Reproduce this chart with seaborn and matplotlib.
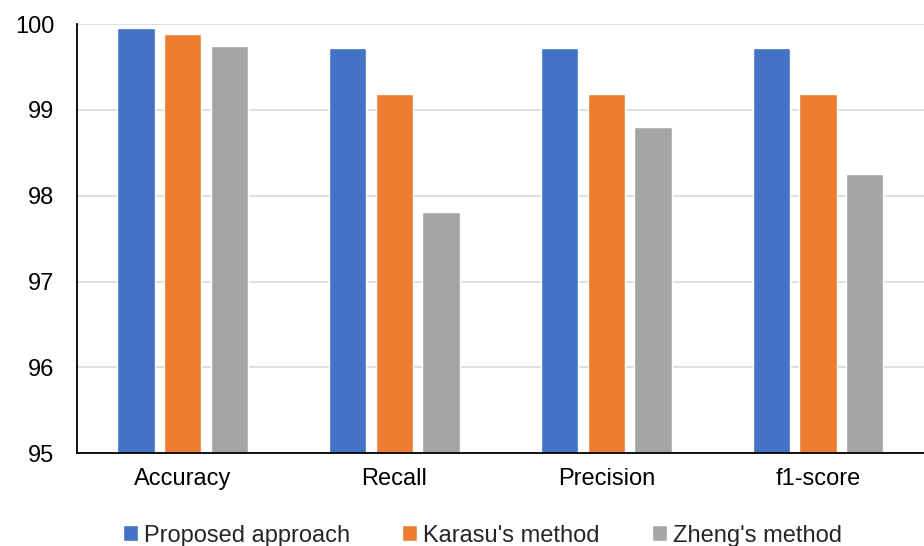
import pandas
import seaborn
import matplotlib.pyplot as plt

# values
metrics = ['Accuracy', 'Recall', 'Precision', 'f1-score']
methods = ["Proposed approach", "Karasu's method", "Zheng's method"]
proposed = [99.95, 99.72, 99.72, 99.72]
karasu = [99.88, 99.18, 99.18, 99.18]
zheng = [99.74, 97.81, 98.80, 98.25]
colors = ['#4472C4', '#ED7D31', '#A5A5A5']

rows = []
for name, vals in zip(methods, [proposed, karasu, zheng]):
    for m, v in zip(metrics, vals):
        rows.append({'metric': m, 'method': name, 'value': v})
df = pandas.DataFrame(rows)

seaborn.set_style('white')
plt.rcParams['font.family'] = ['Liberation Sans', 'DejaVu Sans']

fig = plt.figure(figsize=(9.24, 5.46), dpi=100)
ax = fig.add_axes([0.083, 0.17, 0.917, 0.786])
seaborn.barplot(data=df, x='metric', y='value', hue='method', palette=colors,
                width=0.66, gap=0.2, ax=ax, legend=True, saturation=1)

ax.set_ylim(95, 100)
ax.set_yticks([95, 96, 97, 98, 99, 100])
ax.set_xlim(-0.5, 3.5)
ax.yaxis.grid(True, color='#d9d9d9', linewidth=1.2)
ax.set_axisbelow(True)
ax.set_xlabel('')
ax.set_ylabel('')
ax.tick_params(axis='both', length=0, labelsize=17, colors='#000000')
ax.tick_params(axis='x', pad=11)
ax.tick_params(axis='y', pad=16)
for side in ['top', 'right']:
    ax.spines[side].set_visible(False)
for side in ['left', 'bottom']:
    ax.spines[side].set_color('black')
    ax.spines[side].set_linewidth(1.3)

handles, labels = ax.get_legend_handles_labels()
ax.get_legend().remove()
fig.legend(handles, labels, loc='lower center', bbox_to_anchor=(0.522, -0.04),
           ncol=3, frameon=False, fontsize=17, handlelength=0.65, handleheight=0.65,
           handletextpad=0.25, columnspacing=2.2)

fig.savefig('out.png', dpi=100)
